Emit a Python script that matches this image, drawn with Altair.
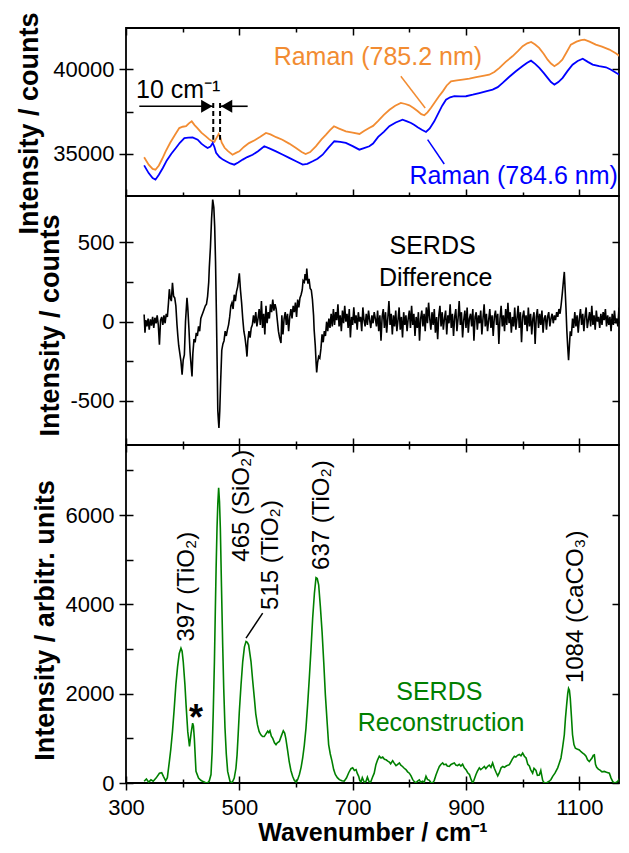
import altair as alt
import pandas as pd

FONT = "Liberation Sans"

# ---------------- shared x axis ----------------
x_domain = [300, 1170]
x_major = [300, 500, 700, 900, 1100]
x_minor = [400, 600, 800, 1000]

# ---------------- panel 1: Raman spectra ----------------
top_domain = [32490, 42460]
top_major = [35000, 40000]
top_minor = [37500]
raman_785_2 = [
    (332, 34790), (340, 34350), (347, 34100), (352, 34050), (358, 34300), (364, 34700), (370, 35140),
    (378, 35650), (386, 36100), (394, 36520), (400, 36600), (406, 36630), (411, 36800), (416, 36920),
    (421, 36700), (426, 36520), (433, 36250), (441, 36030), (447, 35850), (452, 35740), (456, 35700),
    (460, 35950), (463.5, 36170), (466, 36000), (469, 35650), (474, 35350), (480, 35150), (488, 34940),
    (494, 35050), (500, 35140), (508, 35400), (517, 35630), (527, 35800), (537, 36000), (547, 36230),
    (555, 36150), (565, 35980), (576, 35830), (588, 35600), (600, 35340), (610, 35100), (617, 34980),
    (625, 35100), (635, 35440), (645, 35850), (653, 36130), (660, 36400), (667, 36630), (675, 36500),
    (688, 36330), (700, 36250), (712, 36170), (720, 36350), (729, 36530), (736, 36650), (745, 36950),
    (755, 37300), (765, 37610), (775, 37850), (785, 38010), (793, 37950), (800, 37870), (808, 37700),
    (815, 37520), (821, 37350), (826.5, 37280), (832, 37450), (838, 37710), (845, 38050), (852, 38400),
    (859, 38700), (866, 39050), (873.5, 39300), (884, 39350), (894, 39400), (906, 39460), (918, 39540),
    (930, 39620), (941, 39690), (950, 39850), (959, 40090), (970, 40450), (982, 40780), (992, 41100),
    (1000, 41380), (1008, 41550), (1015, 41630), (1022, 41480), (1029, 41280), (1037, 40930),
    (1044, 40580), (1050, 40350), (1056, 40190), (1063, 40350), (1070, 40580), (1078, 41050),
    (1085, 41470), (1095, 41650), (1103, 41740), (1109, 41770), (1118, 41650), (1129, 41470),
    (1140, 41350), (1153, 41180), (1165, 40950), (1176, 40680), (1185, 40580),
]
raman_784_6 = [
    (332, 34310), (340, 33850), (347, 33550), (352, 33460), (358, 33750), (365, 34150), (372, 34600),
    (380, 35000), (388, 35340), (395, 35650), (403, 35930), (410, 35950), (417.6, 35970), (426.5, 35830),
    (433, 35600), (440, 35420), (444, 35340), (449, 35420), (453, 35640), (456, 35400), (459, 35050),
    (465, 34800), (471, 34650), (476.5, 34550), (484, 34420), (491, 34350), (498, 34480), (506, 34650),
    (514, 34800), (523.5, 34940), (533, 35150), (544, 35440), (554, 35300), (564.7, 35140), (576, 34950),
    (588, 34750), (600, 34550), (611.8, 34350), (620, 34400), (629.4, 34550), (638, 34700), (647, 34940),
    (657, 35350), (667.6, 35740), (678, 35700), (688, 35640), (700, 35450), (711.8, 35240), (720, 35330),
    (729.4, 35440), (736, 35600), (745, 36000), (755, 36300), (764.7, 36630), (776, 36850), (788, 37020),
    (796, 36920), (803, 36820), (809, 36700), (814.7, 36570), (822, 36420), (829.4, 36290), (836, 36500),
    (844, 36920), (852, 37450), (858, 37850), (864.7, 38200), (872, 38350), (879.4, 38410), (890, 38400),
    (900, 38410), (912, 38500), (923.5, 38600), (935, 38700), (947, 38800), (956, 38950), (964.7, 39200),
    (976, 39550), (988, 39890), (1000, 40200), (1008, 40400), (1014.7, 40520), (1022, 40330),
    (1029.4, 40090), (1037, 39800), (1044, 39500), (1050, 39250), (1056, 39100), (1063, 39250),
    (1070.6, 39500), (1079, 39900), (1088, 40280), (1097, 40500), (1106, 40640), (1115, 40450),
    (1123.5, 40290), (1135, 40200), (1147, 40130), (1156, 39980), (1164.7, 39800), (1175, 39600),
    (1185, 39400),
]
top_labels = [("Raman (785.2 nm)", 744.5, 40712, "#F28C32"), ("Raman (784.6 nm)", 984, 33706, "#0000FF")]
top_leaders = [(785, 39596, 828, 37714, "#F28C32"), (832.3, 35832, 861.6, 34389, "#0000FF")]
shift_label = [("10 cm\u207b\u00b9", 317.6, 38308)]
shift_arrows = [(323.5, 454, 37815), (514.7, 466, 37815)]
shift_heads = [(442.5, 37815, "triangle-right"), (477.5, 37815, "triangle-left")]
shift_dashes = [(454, 38011, 35831), (466, 38011, 35831)]

# ---------------- panel 2: SERDS difference ----------------
mid_domain = [-778, 793]
mid_major = [-500, 0, 500]
mid_minor = [-250, 250]
serds_difference = [
    (332, 45), (333.5, -70), (335, 10), (337, -30), (339, 20), (341, -50), (343, 15), (345, -25), (347, 30),
    (349, -40), (351, 25), (353, -10), (355, 40), (357, -20), (359, -145), (361, 10), (363, 30), (365, -20),
    (367, 40), (369, -10), (371, 50), (373, 30), (375, 120), (376.5, 205), (378, 150), (380, 130), (382, 245),
    (384, 160), (386, 150), (388, 100), (390, -20), (391.5, -90), (393, -150), (395, -200), (397, -250),
    (399, -335), (401, -240), (403, -210), (405, 0), (407.6, 150), (409, 90), (411, -40), (413, -190),
    (415, -280), (416.5, -345), (418, -200), (420, -110), (422, -130), (424, -70), (426, -90), (428, -30),
    (430, -60), (432, 20), (434, 40), (436, 60), (438, 80), (440, 100), (442, 110), (444, 160), (446, 250),
    (447, 340), (449, 470), (451, 650), (453, 770), (455, 720), (456.5, 600), (458, 380), (459.5, 60),
    (461, -300), (462, -560), (463, -620), (464, -670), (465.5, -560), (467, -380), (469, -180), (471, -140),
    (473, -120), (475, -60), (477, -90), (479, -50), (481, -20), (483, 30), (485, 100), (487, 120), (489, 80),
    (491, 170), (493, 130), (495, 190), (497, 220), (498.5, 260), (500, 305), (502, 200), (504, 120),
    (506, 20), (508, -60), (510, -100), (512, -160), (513.5, -220), (515, -120), (517, -60), (519, -100),
    (521, -40), (523, -20), (525, 40), (527, -10), (529, 60), (531, -30), (533, 20), (535, 80), (537, -20),
    (539, 130), (541, -40), (543, 50), (545, -80), (547, 100), (549, -10), (551, 60), (553, 20), (555, 110),
    (557, 60), (559, 140), (561, 70), (563, 110), (565, 80), (567, 10), (569, -60), (571, -100),
    (573.5, -135), (575, 40), (577, -80), (579, 20), (581, 60), (583, -20), (585, 50), (587, -60), (589, 30),
    (591, 80), (593, 20), (595, 100), (597, 60), (599, 120), (601, 30), (603, 140), (605, 90), (607, 150),
    (609, 170), (611, 200), (612.5, 260), (614.7, 250), (616, 300), (618, 260), (619, 335), (621, 240),
    (623, 270), (625, 210), (627, 200), (629, 140), (631, 40), (632, -50), (634, -150), (635.5, -260),
    (636.5, -320), (638, -260), (640, -220), (642, -230), (644, -170), (646, -80), (648, -130), (650, -60),
    (652, -90), (654, 0), (656, -60), (658, 20), (660, -40), (662, 50), (664, -30), (666, 80), (668, -20),
    (670, 60), (672, 10), (674, 110), (676, -30), (678, 40), (680, -60), (682, 70), (684, -10), (686, 100),
    (688, 0), (690, 50), (692, -40), (694, 80), (696, -100), (698, 30), (700, -20), (702, 90), (704, -10),
    (706, 40), (708, -50), (710, 60), (712, 0), (714, 30), (716, -60), (718, 90), (720, 10), (722, -30),
    (724, 50), (726, -20), (728, 70), (730, 10), (732, -40), (734, 40), (736, -10), (738, 60), (740, 20),
    (742, -30), (744, 70), (746, -60), (748, 40), (750, -120), (752, 30), (754, 80), (756, -40), (758, 60),
    (760, -70), (762, 20), (764, 130), (766, -20), (768, 50), (770, -80), (772, 40), (774, -30), (776, 70),
    (778, -60), (780, 10), (782, 90), (784, -50), (786, 30), (788, -100), (790, 60), (792, -20), (794, 40),
    (796, -60), (798, 20), (800, 70), (802, -40), (804, 100), (806, -20), (808, 50), (810, -90), (812, 30),
    (814, -40), (816, 60), (818, -120), (820, 20), (822, 70), (824, -30), (826, 50), (828, -60), (830, 90),
    (832, -10), (834, 120), (836, 20), (838, -50), (840, 60), (842, -20), (844, 80), (846, -70), (848, 30),
    (850, -110), (852, 40), (854, 100), (856, -30), (858, 60), (860, -50), (862, 20), (864, 70), (866, -80),
    (868, 40), (870, -10), (872, 110), (874, -40), (876, 50), (878, -90), (880, 30), (882, 80), (884, -60),
    (886, 20), (888, 130), (890, -20), (892, 60), (894, -100), (896, 10), (898, 70), (900, -40), (902, 90),
    (904, -70), (906, 20), (908, 50), (910, -30), (912, 80), (914, -120), (916, 30), (918, 60), (920, -50),
    (922, 40), (924, -10), (926, 70), (928, -80), (930, 20), (932, 110), (934, -30), (936, 50), (938, -60),
    (940, 10), (942, 80), (944, -40), (946, 40), (948, -90), (950, 30), (952, 70), (954, -20), (956, 50),
    (958, -140), (960, 20), (962, 100), (964, -30), (966, 40), (968, -60), (970, 80), (972, -20), (974, 120),
    (976, -10), (978, 60), (980, -70), (982, 30), (984, -30), (986, 90), (988, -50), (990, 20), (992, 100),
    (994, -40), (996, 60), (998, -130), (1000, 30), (1002, 70), (1004, -20), (1006, 40), (1008, -60),
    (1010, 90), (1012, -30), (1014, 50), (1016, -80), (1018, 20), (1020, 60), (1022, -140), (1024, 30),
    (1026, 80), (1028, -40), (1030, 50), (1032, -20), (1034, 70), (1036, -70), (1038, 20), (1040, 40),
    (1042, -50), (1044, 30), (1046, 60), (1048, -30), (1050, 20), (1052, 50), (1054, -10), (1056, 40),
    (1058, 10), (1060, 60), (1062, 30), (1064, 80), (1066, 50), (1068, 110), (1070, 180), (1072, 260),
    (1073.5, 314), (1075, 200), (1076.5, 80), (1078, -60), (1079.5, -160), (1081, -243), (1082.5, -150),
    (1084, -60), (1086, -90), (1088, 20), (1090, -40), (1092, 60), (1094, -30), (1096, 40), (1098, -70),
    (1100, 20), (1102, 80), (1104, -20), (1106, 50), (1108, -60), (1110, 30), (1112, 90), (1114, -40),
    (1116, 10), (1118, 60), (1120, -30), (1122, 100), (1124, -20), (1126, 40), (1128, -50), (1130, 70),
    (1132, 0), (1134, 30), (1136, -40), (1138, 50), (1140, -20), (1142, 60), (1144, 10), (1146, 80),
    (1148, -30), (1150, 40), (1152, -20), (1154, 30), (1156, -60), (1158, 50), (1160, -20), (1162, 70),
    (1164, -10), (1166, 20), (1168, -30), (1170, 90), (1172, -50),
]
mid_labels = [("SERDS", 841, 475), ("Difference", 846.6, 278)]

# ---------------- panel 3: SERDS reconstruction ----------------
bot_domain = [0, 7570]
bot_major = [0, 2000, 4000, 6000]
bot_minor = [1000, 3000, 5000, 7000]
serds_reconstruction = [
    (332, 40), (336, 90), (340, 20), (344, 70), (348, 40), (353, 110), (359, 220), (363, 230), (366, 150),
    (370, 50), (373, 120), (376.5, 480), (379, 750), (382, 1150), (385, 1650), (388, 2200), (391, 2600),
    (394, 2900), (397, 3020), (399, 2950), (401, 2720), (404, 2200), (406, 1750), (409, 1150), (412, 820),
    (414.7, 1100), (417.6, 1340), (419, 1280), (420.6, 1000), (423.5, 260), (428, 110), (432, 60), (435, 40),
    (440, 10), (444, 0), (447, 50), (450, 190), (452, 700), (454, 1600), (456, 2700), (457.6, 3840),
    (459, 4800), (460.6, 5700), (462, 6250), (463.5, 6610), (465, 6300), (466.5, 5700), (468.5, 4400),
    (470.6, 3100), (472.5, 2100), (474.7, 1230), (477, 650), (479.4, 260), (483.5, 40), (487, 0), (491, 110),
    (494, 330), (496, 630), (498, 1100), (500, 1600), (503, 2200), (506, 2720), (509, 3050), (511.8, 3170),
    (514, 3150), (516.5, 3090), (520.6, 2720), (523.5, 2300), (526.5, 1900), (529, 1550), (532, 1300),
    (535, 1150), (538, 1080), (541, 1040), (544, 1040), (547, 1100), (550, 1160), (552, 1130), (554, 1170),
    (556.5, 1050), (559, 1000), (562, 900), (564.7, 860), (567, 900), (570.6, 930), (574, 1050),
    (577.6, 1170), (580, 1120), (582, 1000), (585, 750), (588, 480), (591, 280), (594, 150), (597, 60),
    (600, 20), (603, 80), (606, 190), (609, 350), (611.8, 560), (614.7, 850), (617.6, 1230), (620.5, 1750),
    (623.5, 2350), (626.5, 3000), (629.4, 3690), (632.5, 4250), (635.3, 4600), (637.5, 4580), (640, 4440),
    (643, 3950), (646, 3390), (649, 2700), (651.8, 1980), (655, 1350), (657.6, 860), (660.5, 650),
    (663.5, 490), (666.5, 300), (669.4, 190), (673, 120), (676.5, 75), (681, 50), (685, 40), (689, 110),
    (693, 230), (697, 320), (700, 340), (703, 280), (706, 300), (708, 220), (710.6, 150), (712.5, 60),
    (714.7, 20), (717, 120), (719, 60), (721, 10), (723.5, 40), (726, 130), (728, 60), (730, 10), (732, 30),
    (735, 130), (738, 220), (741, 410), (744, 520), (747, 600), (750, 560), (753, 580), (756, 530),
    (759, 520), (762, 490), (764.7, 470), (767, 430), (770.6, 500), (773, 450), (776.5, 390), (779, 410),
    (782.4, 450), (785, 400), (788, 370), (791, 330), (794, 300), (797, 250), (800, 220), (803, 160),
    (806, 75), (809, 30), (811.8, 0), (814, 40), (817.6, 70), (820, 20), (823.5, 40), (826, 10),
    (829.4, 150), (832, 80), (835.3, 60), (838, 10), (841.2, 0), (844, 60), (847, 180), (850, 280),
    (853, 370), (856, 420), (858.8, 450), (861, 410), (864.7, 420), (867, 380), (870.6, 370), (873, 410),
    (876, 430), (879.4, 450), (882, 400), (885, 390), (888, 420), (891, 380), (894, 420), (897, 340),
    (900, 300), (903, 230), (906, 190), (909, 80), (911.8, 0), (914, 60), (917.6, 190), (920, 260),
    (923.5, 340), (926, 300), (929, 330), (932.4, 370), (935, 320), (938, 370), (941, 400), (944, 350),
    (947, 450), (950, 330), (953, 240), (956, 160), (958.8, 230), (962, 340), (965, 370), (967.7, 350),
    (971, 380), (974, 400), (976.5, 410), (979, 470), (982, 540), (985.3, 600), (988, 580), (991, 620),
    (994, 640), (997, 610), (1000, 670), (1003, 600), (1006, 560), (1009, 420), (1011.8, 380), (1014, 300),
    (1017.6, 220), (1020, 330), (1023.5, 280), (1026, 170), (1029.4, 180), (1032, 280), (1035.3, 60),
    (1037, 20), (1039.4, 0), (1043, 10), (1047, 40), (1050, 80), (1053, 150), (1057, 220), (1061.8, 340),
    (1064, 420), (1067.6, 560), (1070.5, 800), (1073.5, 1080), (1075.5, 1450), (1077.6, 1750),
    (1079.5, 2000), (1081, 2120), (1082.5, 2080), (1084, 1900), (1086, 1500), (1088, 1080), (1090.5, 860),
    (1093, 780), (1096, 760), (1100, 740), (1103, 700), (1106, 670), (1109, 640), (1111.8, 600),
    (1114.5, 520), (1117.6, 480), (1120, 520), (1122.4, 560), (1124.5, 620), (1126.5, 630), (1128.5, 420),
    (1130.6, 350), (1133.5, 310), (1136.5, 290), (1140, 250), (1144, 260), (1148, 240), (1153, 220),
    (1156, 110), (1159, 30), (1162, 0), (1164.7, 10), (1168, 40), (1171, 100), (1173.5, 120),
]
peak_labels = [
    ("397 (TiO\u2082)", 407.6, 3168),
    ("465 (SiO\u2082)", 504.7, 4957),
    ("515 (TiO\u2082)", 555.9, 3877),
    ("637 (TiO\u2082)", 645, 4772),
    ("1084 (CaCO\u2083)", 1094, 2237),
]
peak_leader = [(511.8, 3244, 541.2, 3803)]
star_label = [("*", 423.5, 1180)]
bot_labels = [("SERDS", 852.9, 2049), ("Reconstruction", 855.9, 1342)]

ORANGE, BLUE, GREEN = "#F28C32", "#0000FF", "#008000"
W = 493
H_TOP, H_MID, H_BOT = 168, 249, 338


def pts(pairs):
    return pd.DataFrame(pairs, columns=["w", "v"])


def xsc():
    return alt.Scale(domain=x_domain, nice=False, zero=False)


def ysc(dom):
    return alt.Scale(domain=dom, nice=False, zero=False)


def X(field, **kw):
    return alt.X(field, type="quantitative", scale=xsc(), axis=None, **kw)


def Y(field, dom, **kw):
    return alt.Y(field, type="quantitative", scale=ysc(dom), axis=None, **kw)


LABEL_EXPR = "datum.value < 0 ? '-' + (-datum.value) : '' + datum.value"
AX = dict(domain=False, grid=False, ticks=True, tickColor="black", tickWidth=1.5,
          labelFont=FONT, labelFontSize=22, labelColor="black", labelFlush=False,
          labelOverlap=False, labelExpr=LABEL_EXPR, titleFont=FONT, titleFontSize=27,
          titleFontWeight="bold", titleColor="black")


def axis_layer(df, dom, channel, orient, values, size, offset=0, labels=False, **kw):
    opts = dict(AX)
    opts.update(kw)
    if "title" not in opts:
        opts["title"] = None
    ax = alt.Axis(orient=orient, values=values, tickSize=size, offset=offset, labels=labels, **opts)
    if channel == "x":
        enc = dict(x=alt.X("w:Q", scale=xsc(), axis=ax), y=Y("v:Q", dom))
    else:
        enc = dict(x=X("w:Q"), y=alt.Y("v:Q", scale=ysc(dom), axis=ax))
    return alt.Chart(df).mark_line(strokeOpacity=0, clip=True).encode(**enc)


def line_layer(df, dom, color, width):
    return alt.Chart(df).mark_line(color=color, strokeWidth=width, clip=True).encode(
        x=X("w:Q"), y=Y("v:Q", dom))


def text_layer(rows, dom, cols, **mark):
    df = pd.DataFrame(rows, columns=cols)
    enc = dict(x=X("w:Q"), y=Y("v:Q", dom), text="label:N")
    if "color" in cols:
        enc["color"] = alt.Color("color:N", scale=None)
    return alt.Chart(df).mark_text(font=FONT, **mark).encode(**enc)


def seg_layer(rows, dom, cols, **mark):
    df = pd.DataFrame(rows, columns=cols)
    enc = dict(x=X("w:Q"), y=Y("v:Q", dom))
    if "w2" in cols:
        enc["x2"] = "w2:Q"
    if "v2" in cols:
        enc["y2"] = "v2:Q"
    if "color" in cols:
        enc["color"] = alt.Color("color:N", scale=None)
    return alt.Chart(df).mark_rule(**mark).encode(**enc)


def frame_axes(df, dom, major, minor, title, title_x, title_y, top_ticks, bottom_labels):
    layers = [
        axis_layer(df, dom, "y", "left", major, 7, labels=True, labelPadding=5,
                   title=title, titleX=title_x, titleY=title_y),
        axis_layer(df, dom, "y", "left", sorted(major + minor), 7, offset=-7),
        axis_layer(df, dom, "y", "right", major, 7, offset=-7),
        axis_layer(df, dom, "x", "bottom", x_major, 7, offset=-7),
        axis_layer(df, dom, "x", "bottom", x_minor, 4, offset=-4),
    ]
    if top_ticks:
        layers += [
            axis_layer(df, dom, "x", "top", x_major, 7, offset=-7),
            axis_layer(df, dom, "x", "top", x_minor, 4, offset=-4),
        ]
    if bottom_labels:
        layers += [
            axis_layer(df, dom, "x", "bottom", x_major, 7, labels=True, labelPadding=7,
                       title="Wavenumber / cm\u207b\u00b9", titleY=57.5, titleBaseline="alphabetic",
                       titleFontSize=25),
            axis_layer(df, dom, "x", "bottom", x_minor, 4),
        ]
    return layers


# ---- panel 1
df_o = pts(raman_785_2)
df_b = pts(raman_784_6)
top = alt.layer(
    line_layer(df_o, top_domain, ORANGE, 1.8),
    line_layer(df_b, top_domain, BLUE, 1.8),
    seg_layer(top_leaders, top_domain, ["w", "v", "w2", "v2", "color"], strokeWidth=1.5),
    text_layer(top_labels, top_domain, ["label", "w", "v", "color"], fontSize=25, align="center",
               baseline="middle"),
    text_layer(shift_label, top_domain, ["label", "w", "v"], fontSize=25, align="left",
               baseline="alphabetic", color="black"),
    seg_layer(shift_arrows, top_domain, ["w", "w2", "v"], strokeWidth=1.6, color="black"),
    alt.Chart(pd.DataFrame(shift_heads, columns=["w", "v", "shape"])).mark_point(
        filled=True, size=170, color="black", opacity=1).encode(
        x=X("w:Q"), y=Y("v:Q", top_domain), shape=alt.Shape("shape:N", scale=None)),
    seg_layer(shift_dashes, top_domain, ["w", "v", "v2"], strokeWidth=2, color="black",
              strokeDash=[5, 3]),
    *frame_axes(df_o, top_domain, top_major, top_minor, "Intensity / counts", -83, 95, True, False),
).resolve_axis(x="independent", y="independent").properties(width=W, height=H_TOP)

# ---- panel 2
df_d = pts(serds_difference)
mid = alt.layer(
    line_layer(df_d, mid_domain, "black", 1.6),
    text_layer(mid_labels, mid_domain, ["label", "w", "v"], fontSize=25, align="center",
               baseline="middle", color="black"),
    *frame_axes(df_d, mid_domain, mid_major, mid_minor, "Intensity / counts", -62, 129, False, False),
).resolve_axis(x="independent", y="independent").properties(width=W, height=H_MID)

# ---- panel 3
df_r = pts(serds_reconstruction)
bot = alt.layer(
    line_layer(df_r, bot_domain, GREEN, 1.6),
    text_layer(peak_labels, bot_domain, ["label", "w", "v"], fontSize=24, align="left",
               baseline="middle", angle=270, color="black"),
    seg_layer(peak_leader, bot_domain, ["w", "v", "w2", "v2"], strokeWidth=1.5, color="black"),
    text_layer(star_label, bot_domain, ["label", "w", "v"], fontSize=36, fontWeight="bold",
               align="center", baseline="alphabetic", color="black"),
    text_layer(bot_labels, bot_domain, ["label", "w", "v"], fontSize=25, align="center",
               baseline="middle", color=GREEN),
    *frame_axes(df_r, bot_domain, bot_major, bot_minor, "Intensity / arbitr. units", -67, 175, True, True),
).resolve_axis(x="independent", y="independent").properties(width=W, height=H_BOT)

chart = alt.vconcat(top, mid, bot, spacing=0, bounds="flush").properties(
    padding={"left": 6, "top": 3, "right": 0, "bottom": 0}
).configure_view(stroke="black", strokeWidth=1.8)

chart.save("out.html", embed_options={"renderer": "svg", "actions": False})
